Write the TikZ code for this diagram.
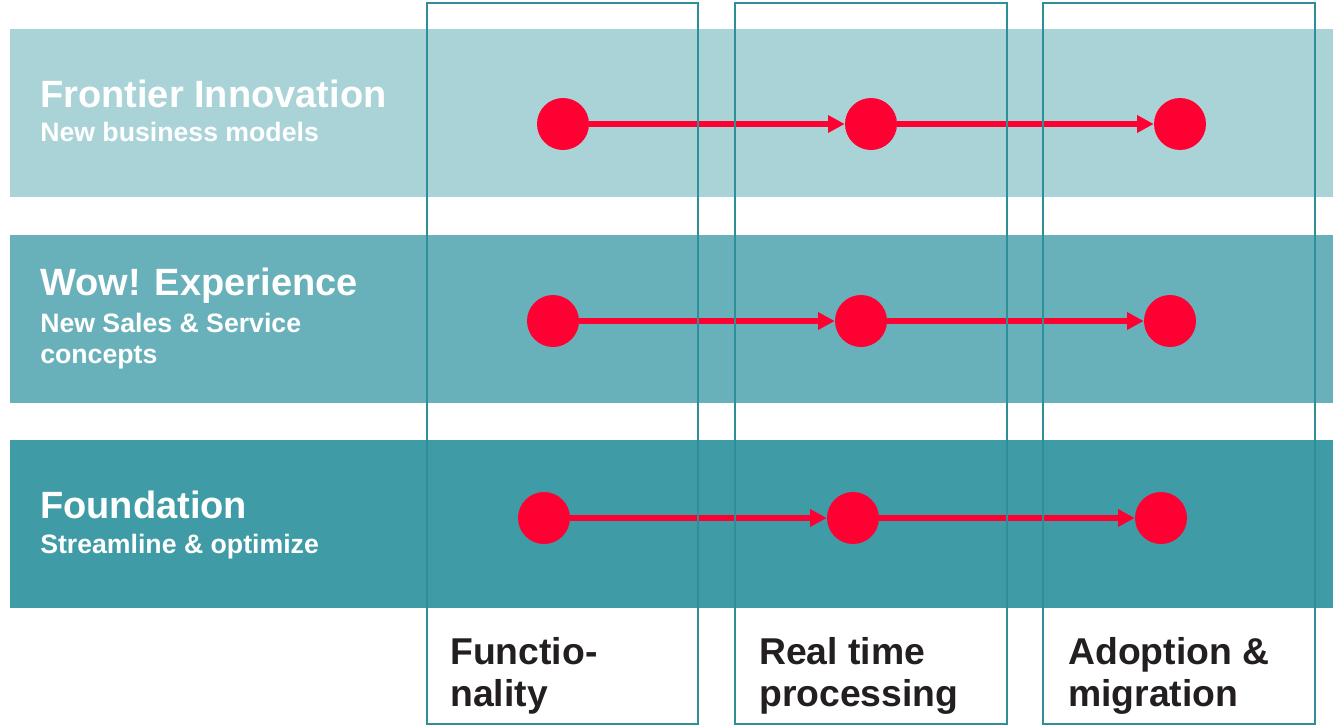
\documentclass[tikz,border=0pt]{standalone}
\usepackage{fontspec}
\setmainfont{Liberation Sans}
\usetikzlibrary{positioning,arrows.meta}

\definecolor{bandtop}{HTML}{AAD3D8}
\definecolor{bandmid}{HTML}{69B1BA}
\definecolor{bandlow}{HTML}{3F9CA6}
\definecolor{colline}{HTML}{2E8F99}
\definecolor{dotred}{HTML}{FF0033}
\definecolor{textdark}{HTML}{231F20}

\tikzset{
  dot/.style={circle, fill=dotred, minimum size=39pt, inner sep=0pt},
  flow/.style={draw=dotred, line width=3.9pt, -{Triangle[length=12.5pt,width=12.5pt]}},
  rowtitle/.style={anchor=base west, inner sep=0pt, text=white, font=\bfseries\fontsize{28.5}{30}\selectfont},
  rowsub/.style={anchor=base west, inner sep=0pt, text=white, font=\bfseries\fontsize{20}{22}\selectfont},
  coltext/.style={anchor=base west, inner sep=0pt, text=textdark, font=\bfseries\fontsize{28}{30}\selectfont},
  colbox/.style={draw=colline, line width=1.3pt}
}

\begin{document}
\begin{tikzpicture}[x=0.75pt,y=-0.75pt]
      \useasboundingbox (0,0) rectangle (1333,725);

      % Bands
      \fill[bandtop] (10,29) rectangle (1333,197);
      \fill[bandmid] (10,235) rectangle (1333,403);
      \fill[bandlow] (10,440) rectangle (1333,608);
    %
      %% Labels
      \node[rowtitle] (fi) at (40,107) {Frontier Innovation};
      \node[rowsub] (fisub) at (40,141) {New business models};

      \node[rowtitle] (wow) at (40,295) {Wow! Experience};
      \node[rowsub] (wowsub) at (40,332) {New Sales \& Service};
      \node[rowsub] (wowsubb) at (40,363) {concepts};

      \node[rowtitle] (fd) at (40,518) {Foundation};
      \node[rowsub] (fdsub) at (40,553) {Streamline \& optimize};

        %%%%%%%%%%%%%%%%%%%%%%%%%%

        % Dots
        \node[dot] (a1) at (563,124) {};
        \node[dot] (a2) at (871,124) {};
        \node[dot] (a3) at (1180,124) {};

        \node[dot] (b1) at (553,321) {};
        \node[dot] (b2) at (861,321) {};
        \node[dot] (b3) at (1170,321) {};

        \node[dot] (c1) at (544,518) {};
        \node[dot] (c2) at (853,518) {};
        \node[dot] (c3) at (1161,518) {};

        % Lines
        \draw[flow] (a1) -- (a2);
        \draw[flow] (a2) -- (a3);
        \draw[flow] (b1) -- (b2);
        \draw[flow] (b2) -- (b3);
        \draw[flow] (c1) -- (c2);
        \draw[flow] (c2) -- (c3);

        %%%%%%%%%%%%%%%%%%%%%%%%%%%

        % Columns
        \draw[colbox] (427,3) rectangle (698,724);
        \draw[colbox] (735,3) rectangle (1007,724);
        \draw[colbox] (1043,3) rectangle (1315,724);

        \node[coltext] (fn) at (450,664) {Functio-};
        \node[coltext] (fnb) at (450,706) {nality};
        \node[coltext] (rt) at (759,664) {Real time};
        \node[coltext] (rtb) at (759,706) {processing};
        \node[coltext] (ad) at (1068,664) {Adoption \&};
        \node[coltext] (adb) at (1068,706) {migration};
    \end{tikzpicture}
\end{document}
